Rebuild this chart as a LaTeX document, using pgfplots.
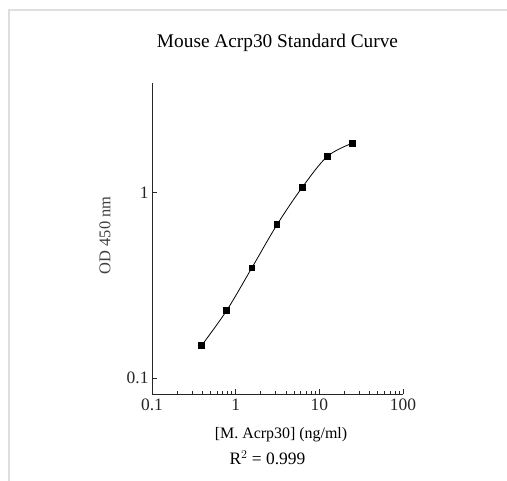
\documentclass[border=0pt]{standalone}
\usepackage{pgfplots}
\pgfplotsset{compat=1.18}
\usepackage{fontspec}
\setmainfont{Liberation Serif}
\begin{document}
\begin{tikzpicture}[x=1bp,y=1bp]
\useasboundingbox (0,0) rectangle (507,481);
\draw[black!13, line width=1.3bp] (9,0) -- (9,471) -- (507,471);
\begin{axis}[
  at={(152bp,87bp)}, anchor=south west,
  scale only axis, width=251bp, height=311bp,
  xmode=log, ymode=log,
  xmin=0.1, xmax=100, ymin=0.0823, ymax=3.9,
  axis x line=bottom, axis y line=left,
  axis line style={-, black!85, line width=0.9bp},
  xtick={0.1,1,10,100}, xticklabels={0.1,1,10,100},
  ytick={0.1,1}, yticklabels={0.1,1},
  yminorticks=false,
  tick align=inside,
  major tick length=5bp, minor tick length=3bp,
  tick style={black!85, line width=0.8bp},
  ticklabel style={font=\fontsize{17.5}{19}\selectfont, text=black!85},
  xticklabel style={yshift=-1bp},
  /pgf/number format/assume math mode=true,
  title={Mouse Acrp30 Standard Curve},
  title style={font=\fontsize{19.4}{22}\selectfont, at={(0.5,1)}, anchor=south, yshift=22bp},
  xlabel={[M. Acrp30] (ng/ml)},
  xlabel style={font=\fontsize{16}{18}\selectfont, at={(rel axis cs:0.514,-0.132)}, anchor=center},
  ylabel={OD 450 nm},
  ylabel style={font=\fontsize{16.5}{18}\selectfont, text=black!75, at={(rel axis cs:-0.187,0.51)}, anchor=center, rotate=0},
  clip=false,
]
\addplot[black, line width=0.8bp, smooth, tension=0.55, mark=square*, mark size=2.8bp, mark options={fill=black}]
coordinates {
(0.390625,0.150)
(0.78125,0.232)
(1.5625,0.394)
(3.125,0.673)
(6.25,1.069)
(12.5,1.57)
(25,1.85)
};
\node[font=\fontsize{17.5}{19}\selectfont, anchor=center] at (rel axis cs:0.46,-0.205) {R$^{2}$ = 0.999};
\end{axis}
\end{tikzpicture}
\end{document}
